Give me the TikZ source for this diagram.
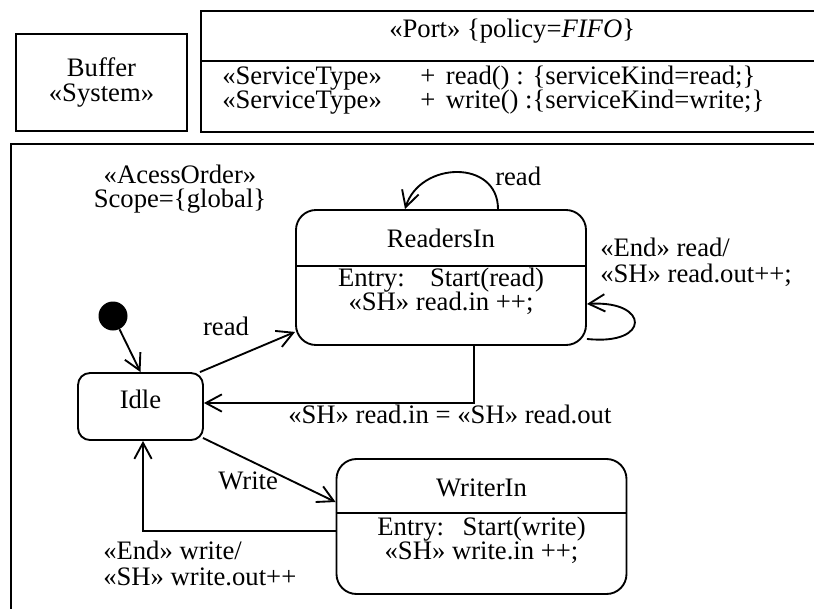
\documentclass[tikz,border=0pt]{standalone}
\usepackage{fontspec}
\setmainfont{Liberation Serif}
\usetikzlibrary{arrows.meta,calc}

% stacked lines with a fixed baseline distance; the box baseline is the first line
\newcommand{\stackc}[2]{\vtop{\baselineskip=#1\lineskiplimit=-100pt\lineskip=0pt
  \halign{\hfil##\hfil\cr#2\crcr}}}
\newcommand{\stackl}[2]{\vtop{\baselineskip=#1\lineskiplimit=-100pt\lineskip=0pt
  \halign{##\hfil\cr#2\crcr}}}

\begin{document}
\begin{tikzpicture}[x=0.75pt,y=-0.75pt,
  every node/.style={font=\fontsize{20pt}{18pt}\selectfont, inner sep=0pt},
  box/.style={draw, line width=1.4pt},
  state/.style={draw, line width=1.4pt, rounded corners=15pt,
    minimum width=290*0.75pt, minimum height=135*0.75pt},
  trans/.style={line width=1.4pt, -{Straight Barb[length=12pt,width=13pt]}},
  txt/.style={anchor=base west},
  ctxt/.style={anchor=base},
]
\useasboundingbox (0,0) rectangle (814,608);
\fill[white] (0,0) rectangle (814,608);
\clip (0,0) rectangle (814,608);

% ---- system and port ----
\node[box, minimum width=171*0.75pt, minimum height=97*0.75pt]
  (buffer) at (101.5,82.5) {\stackc{18.5pt}{Buffer\cr «System»}};

\node[box, minimum width=629*0.75pt, minimum height=121*0.75pt] (port) at (515.5,71.5) {};
\draw[line width=1.2pt] (port.west |- 0,61) -- (port.east |- 0,61);
\node[txt] (porttitle) at (389,37) {«Port» \{policy=\textit{FIFO}\}};
\node[txt] (services) at (222,84) {\stackl{18.5pt}{%
  \makebox[148.5pt][l]{«ServiceType»}+\hspace{8pt}read() : \{serviceKind=read;\}\cr
  \makebox[148.5pt][l]{«ServiceType»}+\hspace{8pt}write() :\{serviceKind=write;\}}};

% ---- state machine frame ----
\draw[box] (830,144) -- (11,144) -- (11,620);
\node[ctxt] (accessorder) at (180,183) {\stackc{18pt}{«AcessOrder»\cr Scope=\{global\}}};

% ReadersIn
\node[state] (readers) at (441,277.5) {};
\node[ctxt] (readersname) at ($(readers.north)+(0,38.5)$) {ReadersIn};
\draw[line width=1.4pt] ($(readers.north west)+(0,57)$) -- ($(readers.north east)+(0,57)$);
\node[ctxt] (readersbody) at ($(readers.north)+(0,77)$)
  {\stackc{18.5pt}{Entry:\hspace{19pt}Start(read)\cr «SH» read.in ++;}};

% WriterIn
\node[state] (writer) at (481.5,526.5) {};
\node[ctxt] (writername) at ($(writer.north)+(0,38.5)$) {WriterIn};
\draw[line width=1.4pt] ($(writer.north west)+(0,55)$) -- ($(writer.north east)+(0,55)$);
\node[ctxt] (writerbody) at ($(writer.north)+(0,77)$)
  {\stackc{18.5pt}{Entry:\hspace{14pt}Start(write)\cr «SH» write.in ++;}};

% Idle and initial state
\node[state, minimum width=125*0.75pt, minimum height=67*0.75pt, rounded corners=9pt,
  text depth=10.5pt] (idle) at (140.5,406.5) {Idle};
\node[circle, fill, minimum size=29*0.75pt] (init) at (113,316) {};
\draw[trans] (init) -- (idle.north);

% transitions
\draw[trans] ($(idle.north east)+(-4,0)$) -- ($(readers.south west)+(0,-14)$);
\node[ctxt] (readlbl) at (226,335) {read};

\draw[trans] ($(readers.south)+(33,0)$) |- ($(idle.east)+(0,-3.5)$);
\node[txt] (retlbl) at (288,423) {«SH» read.in = «SH» read.out};

\draw[trans] ($(readers.north)+(57,0)$) .. controls +(0,-50) and +(15,-48) .. ($(readers.north)+(-36,0)$);
\node[txt] (looplbl) at (495,185) {read};

\draw[trans] ($(readers.south east)+(0,-7)$) .. controls +(64,7) and +(63,-4) .. ($(readers.east)+(0,26.5)$);
\node[txt] (endread) at (600,256) {\stackl{20pt}{«End» read/\cr «SH» read.out++;}};

\draw[trans] ($(idle.south east)+(-1,-3)$) -- ($(writer.west)+(0,-24.5)$);
\node[txt] (writelbl) at (218,489) {Write};

\draw[trans] ($(writer.west)+(0,4.5)$) -| ($(idle.south)+(2.5,0)$);
\node[txt] (endwrite) at (103,559) {\stackl{20pt}{«End» write/\cr «SH» write.out++}};
\end{tikzpicture}
\end{document}
